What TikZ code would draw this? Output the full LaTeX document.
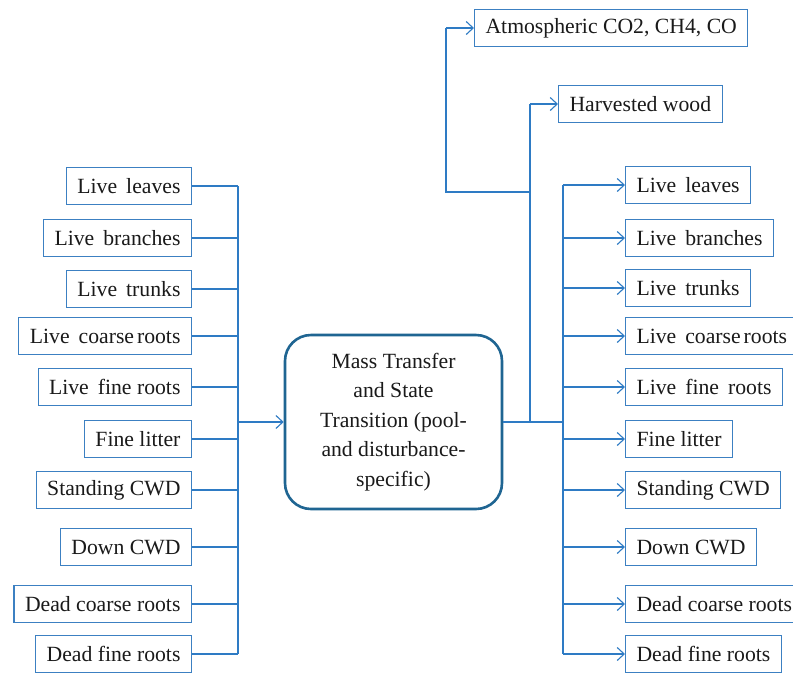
\documentclass[tikz,border=0pt]{standalone}
\usepackage{fontspec}
\setmainfont{Liberation Serif}
\usetikzlibrary{arrows.meta}
\definecolor{boxblue}{HTML}{3C80C2}
\definecolor{linkblue}{HTML}{2E7BC4}
\definecolor{midblue}{HTML}{1F6592}
\definecolor{txt}{HTML}{1A1A1A}
\tikzset{
  pool/.style={draw=boxblue, line width=1.1pt, rectangle, inner xsep=11pt, inner ysep=0pt,
    minimum height=37pt, text=txt, font=\fontsize{21.7pt}{24pt}\selectfont},
  conn/.style={draw=linkblue, line width=1.1pt},
  bus/.style={draw=linkblue, line width=1.8pt},
  arr/.style={conn, -{Straight Barb[length=7pt,width=13pt,line width=1.1pt]}},
  central/.style={draw=midblue, line width=2.6pt, rounded corners=26pt, minimum width=217pt,
    minimum height=174pt, align=center, text=txt, font=\fontsize{21.7pt}{29.5pt}\selectfont}
}
\begin{document}
\begin{tikzpicture}[x=1pt,y=-1pt]
\useasboundingbox (0,0) rectangle (793,673);
\fill[white] (0,0) rectangle (793,673);
% central node
\node[central] (mt) at (393.5,422) {Mass Transfer\\and State\\Transition (pool-\\and disturbance-\\specific)};
% left pools
\node[pool, anchor=east] (L1) at (192,186) {Live\, leaves};
\node[pool, anchor=east] (L2) at (192,238) {Live\, branches};
\node[pool, anchor=east] (L3) at (192,289) {Live\, trunks};
\node[pool, anchor=east] (L4) at (192,336) {Live\, coarse\hspace{-2.5pt} roots};
\node[pool, anchor=east] (L5) at (192,387) {Live\, fine roots};
\node[pool, anchor=east] (L6) at (192,439) {Fine litter};
\node[pool, anchor=east] (L7) at (192,490) {Standing CWD};
\node[pool, anchor=east] (L8) at (192,547) {Down CWD};
\node[pool, anchor=east] (L9) at (192,604) {Dead coarse roots};
\node[pool, anchor=east] (L10) at (192,654) {Dead fine roots};
% right pools
\node[pool, anchor=west] (R1) at (625,185) {Live\, leaves};
\node[pool, anchor=west] (R2) at (625,238) {Live\, branches};
\node[pool, anchor=west] (R3) at (625,288) {Live\, trunks};
\node[pool, anchor=west] (R4) at (625,336) {Live\, coarse\hspace{-2.5pt} roots};
\node[pool, anchor=west] (R5) at (625,387) {Live\, fine\, roots};
\node[pool, anchor=west] (R6) at (625,439) {Fine litter};
\node[pool, anchor=west] (R7) at (625,490) {Standing CWD};
\node[pool, anchor=west] (R8) at (625,547) {Down CWD};
\node[pool, anchor=west] (R9) at (625,604) {Dead coarse roots};
\node[pool, anchor=west] (R10) at (625,654) {Dead fine roots};
% top targets
\node[pool, anchor=west] (atm) at (474,28) {Atmospheric CO2, CH4, CO};
\node[pool, anchor=west] (hw) at (558,104) {Harvested wood};
% bus coordinates
\coordinate (busL) at (238,0);
\coordinate (busR) at (563,0);
\coordinate (up) at (530,0);
\coordinate (j1) at (530,192);
\coordinate (j2) at (446,192);
% left connectors
\foreach \n in {L1,L2,L3,L4,L5,L6,L7,L8,L9,L10}
  \draw[conn] (\n.east) -- (busL |- \n.east);
\draw[bus] (busL |- L1.east) -- (busL |- L10.east);
\draw[arr, line width=1.8pt] (busL |- mt.west) -- (mt.west);
% right connectors
\draw[bus, line width=1.6pt] (mt.east) -- (busR |- mt.east);
\draw[conn] (busR |- R1.west) -- (busR |- R10.west);
\foreach \n in {R1,R2,R3,R4,R5,R6,R7,R8,R9,R10}
  \draw[arr] (busR |- \n.west) -- (\n.west);
% upper connectors
\draw[conn] (up |- mt.east) -- (up |- hw.west);
\draw[arr] (up |- hw.west) -- (hw.west);
\draw[conn] (j1) -- (j2) -- (j2 |- atm.west);
\draw[arr] (j2 |- atm.west) -- (atm.west);
\end{tikzpicture}
\end{document}
